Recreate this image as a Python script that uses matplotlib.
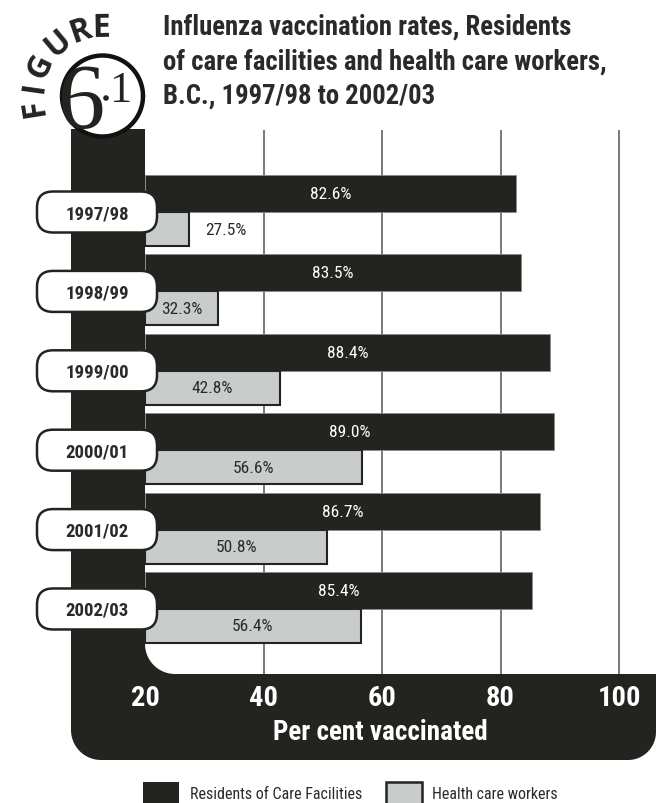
import matplotlib
matplotlib.use("Agg")
import matplotlib.pyplot as plt
import numpy as np
from matplotlib import font_manager
from matplotlib.patches import FancyBboxPatch, PathPatch, Circle, Rectangle
from matplotlib.path import Path

# ---- data -------------------------------------------------------------
years = ["1997/98", "1998/99", "1999/00", "2000/01", "2001/02", "2002/03"]
residents = [82.6, 83.5, 88.4, 89.0, 86.7, 85.4]
workers = [27.5, 32.3, 42.8, 56.6, 50.8, 56.4]
x_ticks = [20, 40, 60, 80, 100]
series_names = ["Residents of Care Facilities", "Health care workers"]
title_lines = ["Influenza vaccination rates, Residents",
               "of care facilities and health care workers,",
               "B.C., 1997/98 to 2002/03"]
x_label = "Per cent vaccinated"
figure_word = "FIGURE"

# ---- fonts --------------------------------------------------------------
available = {f.name for f in font_manager.fontManager.ttflist}


def pick(*names):
    for n in names:
        if n in available:
            return n
    return "DejaVu Sans"


SANS = pick("Liberation Sans Narrow", "Roboto Condensed", "Open Sans", "Liberation Sans")
WIDE = pick("Open Sans", "Liberation Sans", "DejaVu Sans")
SERIF = pick("Liberation Serif", "DejaVu Serif")
plt.rcParams["font.family"] = [SANS, "DejaVu Sans"]

DARK = "#232420"
GREY = "#c8cccb"
TEXT = "#2a2a28"
W, H = 659, 804

fig = plt.figure(figsize=(W / 100, H / 100), dpi=100)
fig.patch.set_facecolor("white")


def frac(x0, y0, x1, y1):
    """Figure fraction rectangle from pixel box (y measured downward)."""
    return [x0 / W, 1 - y1 / H, (x1 - x0) / W, (y1 - y0) / H]


def overlay(z, label):
    a = fig.add_axes([0, 0, 1, 1], zorder=z, label=label)
    a.set_xlim(0, W)
    a.set_ylim(H, 0)
    a.axis("off")
    a.patch.set_alpha(0)
    return a


back = overlay(0, "back")
ax = fig.add_axes(frac(145, 131, 656, 675), zorder=1, label="bars")
front = overlay(2, "front")

# ---- dark L-shaped frame ----------------------------------------------


def arc(x0, y0, r, a0, a1, n=24):
    t = np.radians(np.linspace(a0, a1, n))
    return np.column_stack([x0 + r * np.cos(t), y0 + r * np.sin(t)])


outline = np.vstack([
    [[71, 130], [145, 130]],
    arc(175, 645, 30, 180, 90),
    [[656, 675]],
    arc(628, 733, 28, 0, 90),
    arc(101, 731, 30, 90, 180),
])
back.add_patch(PathPatch(Path(outline, closed=False), fc=DARK, ec="none",
                         zorder=1))

# ---- bars -------------------------------------------------------------
idx = np.arange(len(years))
x_max = 20 + 511 / 5.925
ax.set_xlim(20, x_max)
ax.set_ylim(5.819, -1.033)
ax.set_facecolor("none")
for s in ax.spines.values():
    s.set_visible(False)

for t in x_ticks[1:]:
    ax.axvline(t, color="#6e6e6e", lw=1.3, zorder=0)

res_pos = idx - 0.233
wrk_pos = idx + 0.214
ax.barh(res_pos, np.array(residents) - 20, left=20, height=0.466,
        color=DARK, edgecolor="#8a8a88", linewidth=0.6, zorder=2)
ax.barh(wrk_pos, np.array(workers) - 20, left=20, height=0.428,
        color=GREY, edgecolor=DARK, linewidth=1.5, zorder=2)

for y, v in zip(res_pos, residents):
    ax.text((20 + v) / 2, y, f"{v:.1f}%", color="white", ha="center",
            va="center", fontsize=12.5, zorder=3)
for y, v in zip(wrk_pos, workers):
    if v - 20 < 10:
        ax.text(v + 2.6, y, f"{v:.1f}%", color=TEXT, ha="left",
                va="center", fontsize=12.5, zorder=3)
    else:
        ax.text((20 + v) / 2, y, f"{v:.1f}%", color=TEXT, ha="center",
                va="center", fontsize=12.5, zorder=3)

ax.set_yticks([])
ax.set_xticks(x_ticks)
ax.tick_params(axis="x", length=0, pad=7, labelcolor="white", labelsize=20.5)
for lab in ax.get_xticklabels():
    lab.set_fontweight("bold")
ax.set_xlabel(x_label, color="white", fontsize=19.5, fontweight="bold")
ax.xaxis.set_label_coords((380 - 145) / 511, -(733 - 675) / 544)
ax.xaxis.label.set_va("center")

# ---- year label boxes ---------------------------------------------------
for i, yr in enumerate(years):
    yc = H - ax.transData.transform((20, i))[1]
    front.add_patch(FancyBboxPatch((37, yc - 20.5), 120, 41,
                                   boxstyle="round,pad=0,rounding_size=16",
                                   fc="white", ec=DARK, lw=1.8, zorder=2))
    front.text(97, yc + 1, yr, ha="center", va="center", fontsize=13.5,
               fontweight="bold", color=TEXT, zorder=3)

# ---- figure badge ---------------------------------------------------------
cx, cy = 102.5, 97
front.add_patch(Circle((cx, cy), 40.5, facecolor="white", edgecolor="none",
                       zorder=4, clip_on=False))
ring = arc(cx, cy, 40.5, 0, 360, 120)
front.plot(ring[:, 0], ring[:, 1], color="#111111", lw=3.2, zorder=4.5,
           solid_capstyle="round", clip_on=False)
front.text(82, 128, "6", family=SERIF, fontsize=68, ha="center",
           va="baseline", color=DARK, zorder=5)
front.text(120, 102, "1", family=SERIF, fontsize=32, ha="center",
           va="baseline", color=DARK, zorder=5)
front.add_patch(Circle((106, 99), 2.8, fc=DARK, ec="none", zorder=5))
angles = [189, 172, 154, 130, 109, 91]
R = 73
for ch, a in zip(figure_word, angles):
    r = np.radians(a)
    front.text(cx + R * np.cos(r), cy - R * np.sin(r), ch, rotation=a - 90,
               ha="center", va="center_baseline", fontsize=23,
               fontweight="bold", family=WIDE, color=DARK,
               rotation_mode="anchor", zorder=5)

# ---- title ---------------------------------------------------------------
for line, base in zip(title_lines, [35, 70, 104]):
    front.text(163, base, line, ha="left", va="baseline", fontsize=19.3,
               fontweight="bold", color=TEXT)

# ---- legend ---------------------------------------------------------------
front.add_patch(Rectangle((143, 783), 36, 24, fc=DARK, ec="none"))
front.add_patch(Rectangle((386, 783), 36, 24, fc=GREY, ec=DARK, lw=1.8))
front.text(190, 795, series_names[0], ha="left", va="center", fontsize=11.5,
           color=TEXT)
front.text(432, 795, series_names[1], ha="left", va="center", fontsize=11.5,
           color=TEXT)

fig.savefig("out.png", dpi=100, facecolor="white")
